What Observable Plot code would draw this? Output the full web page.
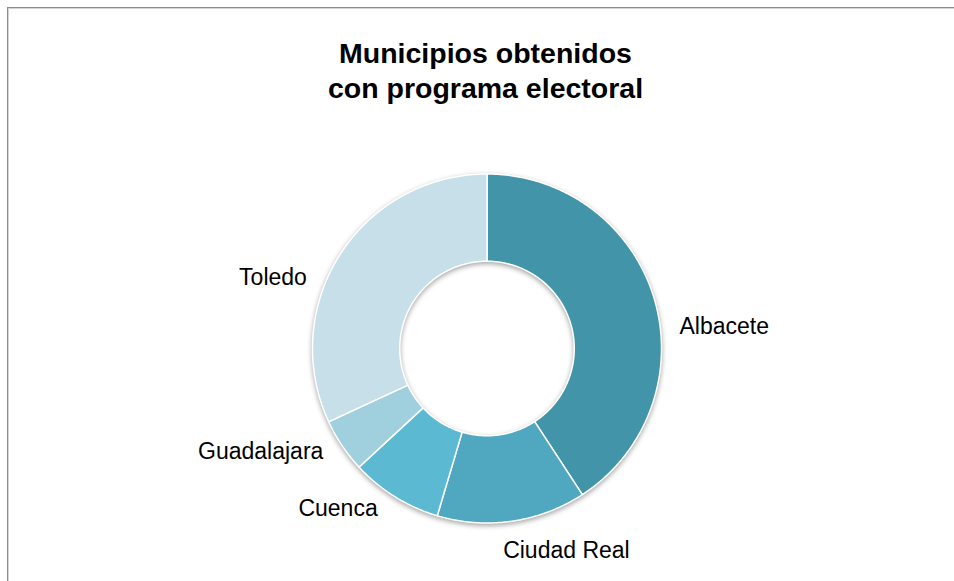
<!DOCTYPE html>
<html>
<head>
<meta charset="utf-8">
<script src="https://cdn.jsdelivr.net/npm/d3@7"></script>
<script src="https://cdn.jsdelivr.net/npm/@observablehq/plot@0.6"></script>
<style>
  html, body { margin: 0; padding: 0; background: #fff; }
  #wrap { position: relative; width: 954px; height: 581px; overflow: hidden; font-family: "Liberation Sans", Arial, Helvetica, sans-serif; }
  #frame { position: absolute; left: 7px; top: 7px; width: 1200px; height: 900px;
           border-left: 1px solid #8c8c8c; border-top: 1px solid #8c8c8c;
           box-shadow: inset 1px 1px 0 #d4d4d4; }
  #title { position: absolute; left: 0; width: 971px; top: 36px; text-align: center;
           font-weight: bold; font-size: 28.5px; line-height: 35px; color: #000; }
  #chart { position: absolute; left: 0; top: 0; }
</style>
</head>
<body>
<div id="wrap">
  <div id="frame"></div>
  <div id="chart"></div>
  <div id="title">Municipios obtenidos<br>con programa electoral</div>
</div>
<script>
// ---- data ----
const provincias = ["Albacete", "Ciudad Real", "Cuenca", "Guadalajara", "Toledo"];
const porcentaje = [40.8, 13.8, 8.5, 5.0, 31.9];
const colores = ["#4295a8", "#4fa8bf", "#5bb9d2", "#a0cfde", "#c7dfe8"];
// label placement: angular shift (degrees) away from slice middle
const labelShift = [10, 3.5, 2.5, 1.5, -11];

// ---- layout ----
const W = 954, H = 581;
const cx = 486.5, cy = 348, Rpx = 174.5;   // centre and outer radius in pixels
const inner = 0.5;                           // inner radius relative to outer
const labelR = 1.11;                         // label radius relative to outer

const data = provincias.map((p, i) => ({name: p, value: porcentaje[i], i}));
const arcs = d3.pie().sort(null).value(d => d.value)(data);

// ring polygons sampled along the arcs
const ring = [];
for (const a of arcs) {
  const n = Math.max(8, Math.ceil((a.endAngle - a.startAngle) / (Math.PI / 360)));
  const pts = [];
  for (let k = 0; k <= n; k++) {
    const t = a.startAngle + (a.endAngle - a.startAngle) * k / n;
    pts.push([Math.sin(t), Math.cos(t)]);
  }
  for (let k = n; k >= 0; k--) {
    const t = a.startAngle + (a.endAngle - a.startAngle) * k / n;
    pts.push([inner * Math.sin(t), inner * Math.cos(t)]);
  }
  pts.push(pts[0]);
  pts.forEach(([x, y], j) => ring.push({name: a.data.name, x, y, j}));
}

// labels
const labels = arcs.map((a, i) => {
  const t = (a.startAngle + a.endAngle) / 2 + labelShift[i] * Math.PI / 180;
  const s = Math.sin(t), c = Math.cos(t);
  return {
    name: a.data.name,
    x: labelR * s,
    y: labelR * c,
    anchor: s >= 0 ? "start" : "end",
    line: c < -0.9 ? "top" : c > 0.9 ? "bottom" : "middle"
  };
});

const chart = Plot.plot({
  width: W,
  height: H,
  margin: 0,
  style: {background: "transparent", overflow: "visible"},
  x: {domain: [-cx / Rpx, (W - cx) / Rpx], axis: null},
  y: {domain: [-(H - cy) / Rpx, cy / Rpx], axis: null},
  color: {domain: provincias, range: colores},
  marks: [
    Plot.line(ring, {
      x: "x", y: "y", z: "name", fill: "name",
      stroke: "white", strokeWidth: 1.5, curve: "linear"
    }),
    ...labels.map(d => Plot.text([d], {
      x: "x", y: "y", text: "name",
      textAnchor: d.anchor, lineAnchor: d.line,
      fontSize: 23, fill: "black",
      fontFamily: "'Liberation Sans', Arial, Helvetica, sans-serif"
    }))
  ]
});

// soft drop shadow under the ring
const ringGroup = chart.querySelector('g[aria-label="line"]');
if (ringGroup) ringGroup.style.filter = "drop-shadow(0px 2px 2.5px rgba(0,0,0,0.35))";

document.getElementById("chart").appendChild(chart);
</script>
</body>
</html>
